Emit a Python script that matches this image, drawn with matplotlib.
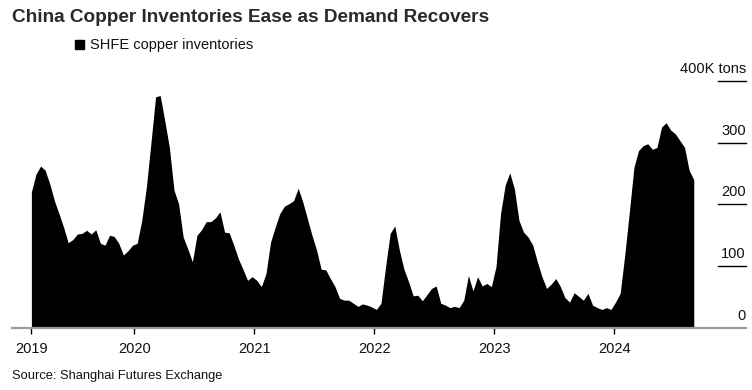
import numpy as np
import matplotlib.pyplot as plt
import matplotlib.transforms as mtransforms
import pandas as pd

plt.rcParams['font.family'] = ['Liberation Sans', 'DejaVu Sans']

# SHFE copper inventories, thousand tons, sampled every two weeks
start_date = '2019-02-22'
inventories = [
    220, 249, 262, 255, 233, 206, 185, 163, 138, 143,
    152, 153, 158, 152, 159, 137, 134, 150, 148, 137,
    118, 125, 134, 137, 174, 228, 300, 374, 376, 335,
    292, 223, 201, 147, 128, 107,
    150, 159, 172, 172, 178, 188, 155, 154, 134, 112,
    95, 77, 83, 77, 67, 88, 139, 163, 185, 197,
    201, 206, 226, 204, 177, 150, 126, 95, 94, 80,
    67, 48, 45, 45, 40, 35,
    39, 37, 34, 30, 40, 99, 153, 165, 126, 95,
    75, 52, 53, 44, 54, 64, 68, 40, 37, 33,
    35, 33, 45, 85, 60, 83, 68, 72, 67, 99,
    185, 231, 251, 225, 174, 155,
    147, 134, 107, 83, 64, 71, 80, 67, 49, 42,
    57, 51, 45, 56, 37, 33, 30, 33, 30, 42,
    56, 118, 188, 260, 287, 295, 298, 289, 292, 325,
    332, 320, 314, 303, 292, 255, 240,
]
dates = pd.date_range(start_date, periods=len(inventories), freq='14D')

year_labels = ['2019', '2020', '2021', '2022', '2023', '2024']
y_ticks = [0, 100, 200, 300, 400]
y_tick_labels = ['0', '100', '200', '300', '400K tons']

fig = plt.figure(figsize=(7.52, 3.9), dpi=100)
ax = fig.add_axes([12/752, 62/390, 734/752, 247.3/390])

ax.fill_between(dates, inventories, 0, color='black', lw=0)

ax.set_xlim(pd.Timestamp('2018-12-25'), pd.Timestamp('2025-02-05'))
ax.set_ylim(0, 400)

for s in ['top', 'right', 'left']:
    ax.spines[s].set_visible(False)
ax.spines['bottom'].set_color('#9a9a9a')
ax.spines['bottom'].set_linewidth(1.6)

tick_pos = [dates[0]] + [pd.Timestamp(f'{y}-01-01') for y in range(2020, 2025)]
ax.set_xticks(tick_pos)
ax.set_xticklabels(year_labels, fontsize=10.5, color='#111111')
ax.tick_params(axis='x', length=4, width=1, color='black', pad=6)
ax.set_yticks([])

# short gridlines and labels on the right
trans = mtransforms.blended_transform_factory(ax.transAxes, ax.transData)
for v, lab in zip(y_ticks, y_tick_labels):
    if v > 0:
        ax.plot([706/734, 1.0], [v, v], transform=trans, color='black', lw=1, clip_on=False)
    ax.text(1.0, v + 12*400/247.3, lab, transform=trans, ha='right', va='center',
            fontsize=10.5, color='#111111')

fig.text(12/752, 1 - 17/390, 'China Copper Inventories Ease as Demand Recovers',
         fontsize=13.7, fontweight='bold', color='#2a2a2a', va='center', ha='left')
fig.patches.append(plt.Rectangle((75/752, 1 - 49/390), 9/752, 9/390,
                                 transform=fig.transFigure, color='black'))
fig.text(90/752, 1 - 44.5/390, 'SHFE copper inventories', fontsize=10.5,
         color='#111111', va='center', ha='left')
fig.text(12/752, 1 - 376/390, 'Source: Shanghai Futures Exchange', fontsize=9.3,
         color='#111111', va='center', ha='left')

plt.savefig('out.png', dpi=100)
